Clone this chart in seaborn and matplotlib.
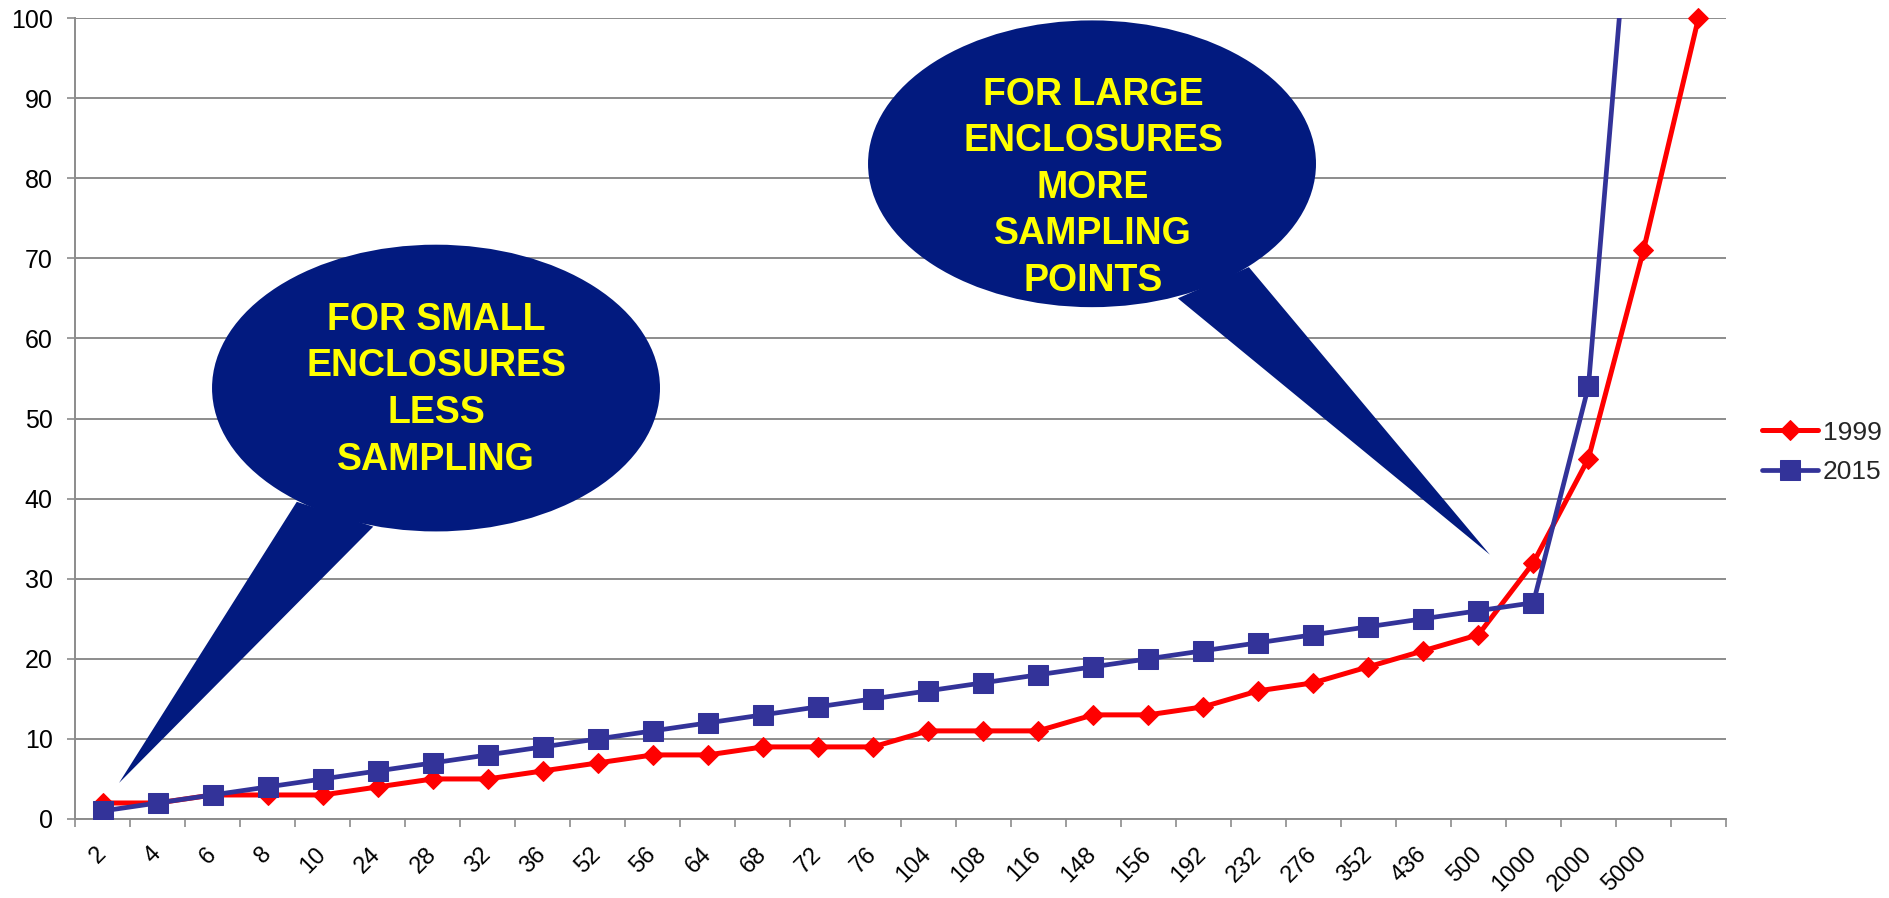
import matplotlib
matplotlib.use("Agg")
import matplotlib.pyplot as plt
import seaborn as sns
import numpy as np
import pandas as pd
from matplotlib.patches import Ellipse, Polygon
from matplotlib.ticker import FixedLocator, NullFormatter

# enclosure sizes (x categories); last slot has no label
sizes = ['2', '4', '6', '8', '10', '24', '28', '32', '36', '52', '56', '64', '68',
         '72', '76', '104', '108', '116', '148', '156', '192', '232', '276', '352',
         '436', '500', '1000', '2000', '5000', '']

# sampling points per year
points_1999 = [2, 2, 3, 3, 3, 4, 5, 5, 6, 7, 8, 8, 9, 9, 9, 11, 11, 11, 13, 13,
               14, 16, 17, 19, 21, 23, 32, 45, 71, 100]
points_2015 = [1, 2, 3, 4, 5, 6, 7, 8, 9, 10, 11, 12, 13, 14, 15, 16, 17, 18, 19,
               20, 21, 22, 23, 24, 25, 26, 27, 54, 136]

y_ticks = [0, 10, 20, 30, 40, 50, 60, 70, 80, 90, 100]

callout_small = ['FOR SMALL', 'ENCLOSURES', 'LESS', 'SAMPLING']
callout_large = ['FOR LARGE', 'ENCLOSURES', 'MORE', 'SAMPLING', 'POINTS']

RED = '#FF0000'
BLUE = '#333399'
NAVY = '#021A7F'
YELLOW = '#FFFF00'
GREY = '#8C8C8C'

sns.set_theme(style='white')
plt.rcParams['font.family'] = ['Liberation Sans', 'DejaVu Sans']

df_1999 = pd.DataFrame({'pos': np.arange(len(points_1999)), 'points': points_1999})
df_2015 = pd.DataFrame({'pos': np.arange(len(points_2015)), 'points': points_2015})

fig = plt.figure(figsize=(18.89, 8.98), dpi=100)
ax = fig.add_axes([75 / 1889, 79 / 898, 1651 / 1889, 801 / 898])

sns.lineplot(data=df_1999, x='pos', y='points', ax=ax, color=RED, label='1999',
             marker='D', markersize=10.5, markeredgecolor=RED, linewidth=3.6,
             clip_on=False, zorder=4)
sns.lineplot(data=df_2015, x='pos', y='points', ax=ax, color=BLUE, label='2015',
             marker='s', markersize=14, markeredgecolor=BLUE, linewidth=3.4,
             zorder=5)

ax.set_xlim(-0.5, len(sizes) - 0.5)
ax.set_ylim(0, 100)
ax.set_xlabel('')
ax.set_ylabel('')

# y axis
ax.set_yticks(y_ticks)
ax.set_yticklabels([str(t) for t in y_ticks])
ax.yaxis.grid(True, color=GREY, linewidth=1.4)
ax.xaxis.grid(False)
ax.tick_params(axis='y', which='major', left=True, length=6, width=1.2, color=GREY,
               labelsize=18, labelcolor='black', pad=10)

# x axis: tick marks between categories, labels centred on categories
ax.xaxis.set_major_locator(FixedLocator(np.arange(len(sizes) + 1) - 0.5))
ax.xaxis.set_major_formatter(NullFormatter())
ax.set_xticks(np.arange(len(sizes)), minor=True)
ax.set_xticklabels(sizes, minor=True, rotation=45, ha='right', va='center',
                   rotation_mode='anchor')
ax.tick_params(axis='x', which='major', bottom=True, length=6, width=1.2, color=GREY)
ax.tick_params(axis='x', which='minor', bottom=True, length=0, labelsize=17,
               labelcolor='black', pad=23)

for side in ['top', 'right']:
    ax.spines[side].set_visible(False)
for side in ['left', 'bottom']:
    ax.spines[side].set_color(GREY)
    ax.spines[side].set_linewidth(1.4)

# speech-bubble callouts
ax.add_patch(Ellipse((6.06, 53.8), 8.14, 35.8, facecolor=NAVY, edgecolor='none', zorder=3))
ax.add_patch(Polygon([(3.53, 39.6), (4.92, 36.5), (0.30, 4.5)], closed=True,
                     facecolor=NAVY, edgecolor='none', zorder=3))
ax.text(6.06, 53.6, '\n'.join(callout_small), ha='center', va='center', color=YELLOW,
        fontsize=27, fontweight='bold', linespacing=1.38, zorder=6)

ax.add_patch(Ellipse((17.98, 81.8), 8.14, 35.8, facecolor=NAVY, edgecolor='none', zorder=3))
ax.add_patch(Polygon([(19.54, 65.0), (20.83, 68.9), (25.21, 33.0)], closed=True,
                     facecolor=NAVY, edgecolor='none', zorder=3))
ax.text(18.0, 78.8, '\n'.join(callout_large), ha='center', va='center', color=YELLOW,
        fontsize=27, fontweight='bold', linespacing=1.38, zorder=6)

ax.legend(loc='center left', bbox_to_anchor=(1.022, 0.4576), frameon=False,
          fontsize=19, handlelength=2.1, handletextpad=0.2, labelspacing=0.6,
          borderpad=0, borderaxespad=0)

fig.savefig('out.png', dpi=100)
